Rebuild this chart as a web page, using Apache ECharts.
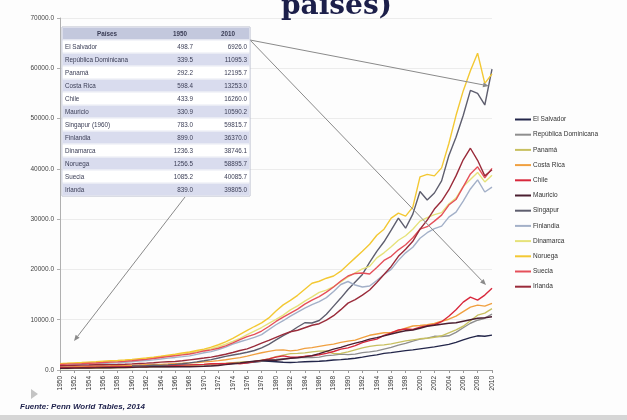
<!DOCTYPE html>
<html>
<head>
<meta charset="utf-8">
<script src="https://cdn.jsdelivr.net/npm/echarts@6/dist/echarts.min.js"></script>
<style>
  html, body { margin: 0; padding: 0; background: #fdfdfd; }
  #chart-container { width: 627px; height: 420px; }
</style>
</head>
<body>
<div id="chart-container"></div>
<script>
var dom = document.getElementById("chart-container");
var myChart = echarts.init(dom, null, { renderer: "canvas" });

var years = [];
for (var y = 1950; y <= 2010; y++) years.push(String(y));

var paises = ["El Salvador", "República Dominicana", "Panamá", "Costa Rica", "Chile", "Mauricio",
  "Singapur", "Finlandia", "Dinamarca", "Noruega", "Suecia", "Irlanda"];
var colores = ["#23264a", "#8e8e8e", "#c8c060", "#f0a040", "#d8283c", "#4a1e30",
  "#5e5e6e", "#a3b0c8", "#e6e27a", "#f3c833", "#e5505a", "#9a2b3a"];

// PIB per capita, 1950-2010
var elSalvador = [499, 510, 540, 560, 580, 600, 640, 650, 650, 660,
  690, 700, 750, 780, 830, 870, 900, 930, 950, 970,
  1000, 1040, 1100, 1160, 1260, 1330, 1410, 1560, 1720, 1720,
  1640, 1530, 1500, 1560, 1630, 1700, 1750, 1850, 1980, 2070,
  2200, 2350, 2550, 2800, 3000, 3300, 3450, 3650, 3850, 4000,
  4200, 4400, 4600, 4850, 5100, 5500, 6000, 6450, 6800, 6700, 6926];
var repDominicana = [340, 370, 400, 400, 420, 440, 480, 510, 530, 530,
  550, 530, 610, 660, 690, 620, 700, 720, 740, 820,
  900, 990, 1100, 1240, 1350, 1450, 1580, 1700, 1760, 1920,
  2080, 2250, 2350, 2480, 2530, 2490, 2560, 2860, 2950, 3150,
  3050, 3150, 3450, 3600, 3800, 4150, 4500, 4950, 5300, 5750,
  6150, 6350, 6700, 6650, 6800, 7500, 8400, 9300, 9900, 10300, 11095];
var panama = [292, 300, 320, 345, 360, 380, 400, 440, 450, 480,
  510, 570, 610, 670, 700, 760, 810, 880, 930, 1010,
  1090, 1180, 1260, 1350, 1460, 1570, 1640, 1720, 1950, 2180,
  2650, 2950, 3250, 3300, 3400, 3600, 3750, 3780, 3250, 3300,
  3600, 4000, 4400, 4700, 4900, 5000, 5200, 5500, 5800, 6000,
  6200, 6300, 6500, 6800, 7400, 8000, 8700, 9800, 10900, 11300, 12196];
var costaRica = [598, 620, 660, 720, 740, 790, 800, 840, 890, 920,
  950, 980, 1030, 1080, 1110, 1180, 1260, 1330, 1420, 1500,
  1620, 1720, 1860, 2050, 2270, 2460, 2750, 3120, 3420, 3700,
  3950, 4000, 3800, 3950, 4300, 4450, 4700, 4950, 5150, 5500,
  5750, 5950, 6450, 6900, 7150, 7400, 7450, 7800, 8300, 8750,
  8850, 9000, 9250, 9700, 10100, 10700, 11600, 12500, 12900, 12700, 13253];
var chile = [434, 460, 490, 520, 540, 560, 580, 610, 630, 650,
  680, 720, 760, 800, 830, 860, 940, 970, 1010, 1070,
  1120, 1230, 1250, 1230, 1360, 1250, 1440, 1680, 1910, 2220,
  2550, 2820, 2550, 2550, 2720, 2830, 3030, 3300, 3680, 4150,
  4400, 4850, 5450, 5850, 6150, 6900, 7400, 7950, 8150, 8050,
  8500, 8800, 9000, 9600, 10700, 12000, 13500, 14500, 13900, 14900, 16260];
var mauricio = [331, 360, 380, 390, 400, 420, 440, 450, 470, 490,
  560, 610, 600, 690, 650, 680, 660, 650, 640, 670,
  720, 790, 900, 1060, 1250, 1380, 1600, 1750, 1880, 2000,
  1950, 2150, 2350, 2450, 2600, 2850, 3250, 3700, 4150, 4500,
  4950, 5350, 5700, 6150, 6450, 6800, 7150, 7500, 7800, 7950,
  8300, 8700, 8900, 9100, 9300, 9400, 9700, 10000, 10300, 10400, 10590];
var singapur = [null, null, null, null, null, null, null, null, null, null,
  783, 830, 880, 950, 920, 1010, 1110, 1240, 1420, 1610,
  1830, 2070, 2380, 2700, 2990, 3220, 3520, 3880, 4400, 5100,
  5980, 6850, 7600, 8550, 9400, 9350, 9850, 11100, 12700, 14300,
  16000, 17500, 19000, 21400, 23600, 25500, 27800, 30200, 28200, 31000,
  35500, 33800, 35200, 37600, 42600, 46300, 50600, 55600, 55000, 52700, 59816];
var finlandia = [899, 990, 1050, 1090, 1160, 1220, 1300, 1380, 1420, 1510,
  1650, 1790, 1900, 2010, 2180, 2360, 2500, 2650, 2810, 3120,
  3440, 3660, 4040, 4560, 5130, 5620, 6050, 6500, 7050, 8020,
  9000, 9800, 10700, 11500, 12300, 13000, 13600, 14400, 15600, 17000,
  17600, 16900, 16500, 16700, 17800, 19000, 20000, 21800, 23300, 24400,
  26200, 27300, 28100, 28600, 30400, 31400, 33600, 36000, 37800, 35400, 36370];
var dinamarca = [1236, 1300, 1350, 1420, 1480, 1530, 1600, 1690, 1760, 1870,
  1960, 2120, 2280, 2400, 2620, 2810, 2990, 3170, 3380, 3690,
  3920, 4230, 4620, 5150, 5700, 6300, 7050, 7750, 8450, 9280,
  10050, 10900, 11950, 12750, 13700, 14550, 15450, 15900, 16600, 17500,
  18500, 19300, 20100, 20600, 22300, 23300, 24500, 25800, 26700, 28000,
  29600, 30300, 30900, 31300, 33000, 34200, 36500, 37900, 39300, 37400, 38746];
var noruega = [1257, 1330, 1410, 1480, 1560, 1640, 1750, 1840, 1890, 1990,
  2110, 2260, 2390, 2540, 2730, 2940, 3140, 3390, 3580, 3880,
  4150, 4560, 5020, 5580, 6280, 7080, 7870, 8650, 9380, 10350,
  11750, 12950, 13850, 14850, 16050, 17250, 17650, 18250, 18700, 19650,
  21000, 22300, 23600, 25000, 26800, 28000, 30200, 31200, 30600, 32400,
  38400, 38900, 38600, 40200, 45000, 50600, 55500, 59500, 63000, 57000, 58896];
var suecia = [1085, 1170, 1220, 1270, 1340, 1400, 1480, 1570, 1620, 1710,
  1830, 1980, 2120, 2280, 2490, 2660, 2820, 3010, 3190, 3460,
  3790, 4010, 4320, 4790, 5380, 6050, 6650, 7100, 7750, 8650,
  9650, 10500, 11300, 12100, 13100, 13900, 14600, 15500, 16500, 17700,
  18700, 19200, 19300, 19100, 20400, 21800, 22600, 23900, 24900, 26300,
  28000, 28500, 29600, 30800, 32800, 33900, 36400, 39000, 40400, 38200, 40086];
var irlanda = [839, 880, 920, 960, 990, 1030, 1050, 1070, 1090, 1140,
  1210, 1290, 1360, 1450, 1560, 1630, 1700, 1840, 2020, 2200,
  2380, 2570, 2830, 3130, 3480, 3880, 4200, 4750, 5350, 5900,
  6500, 7100, 7600, 7900, 8400, 8900, 9200, 9900, 10800, 12000,
  13300, 14000, 14900, 15900, 17400, 19000, 20600, 22600, 24000, 25600,
  28000, 29800, 32000, 33600, 35800, 38600, 41800, 44100, 41700, 38600, 39805];

var allSeries = [elSalvador, repDominicana, panama, costaRica, chile, mauricio,
  singapur, finlandia, dinamarca, noruega, suecia, irlanda];

// tabla insertada
var tablaCabecera = ["Países", "1950", "2010"];
var tabla1950 = ["498.7", "339.5", "292.2", "598.4", "433.9", "330.9",
  "783.0", "899.0", "1236.3", "1256.5", "1085.2", "839.0"];
var tabla2010 = ["6926.0", "11095.3", "12195.7", "13253.0", "16260.0", "10590.2",
  "59815.7", "36370.0", "38746.1", "58895.7", "40085.7", "39805.0"];
var tablaNombres = ["El Salvador", "República Dominicana", "Panamá", "Costa Rica", "Chile", "Mauricio",
  "Singapur (1960)", "Finlandia", "Dinamarca", "Noruega", "Suecia", "Irlanda"];

var series = paises.map(function (p, i) {
  return {
    name: p,
    type: "line",
    data: allSeries[i],
    showSymbol: false,
    connectNulls: false,
    lineStyle: { width: 1.4, color: colores[i] },
    itemStyle: { color: colores[i] },
    z: 2
  };
});

// graphic: tabla, flechas y notas
var tx = 62, ty = 27, tw = 188, rh = 13;
var graphic = [];
graphic.push({ type: "rect", shape: { x: tx, y: ty, width: tw, height: rh * 13 },
  style: { fill: "#ffffff", stroke: "#b8bccb", lineWidth: 1 }, z: 10 });
for (var r = 0; r < 13; r++) {
  var fill = r === 0 ? "#c3c8dd" : (r % 2 === 0 ? "#d9dcee" : "#ffffff");
  graphic.push({ type: "rect", shape: { x: tx + 0.5, y: ty + r * rh + 0.5, width: tw - 1, height: rh - 1 },
    style: { fill: fill, stroke: "#e6e8f2", lineWidth: 0.5 }, z: 11 });
}
var fs = { fontSize: 6.3, fontFamily: "Liberation Sans", fill: "#3a3d55" };
graphic.push({ type: "text", x: tx + 45, y: ty + 4, z: 12,
  style: Object.assign({ text: tablaCabecera[0], fontWeight: "bold", textAlign: "center" }, fs) });
graphic.push({ type: "text", x: tx + 118, y: ty + 4, z: 12,
  style: Object.assign({ text: tablaCabecera[1], fontWeight: "bold", textAlign: "center" }, fs) });
graphic.push({ type: "text", x: tx + 166, y: ty + 4, z: 12,
  style: Object.assign({ text: tablaCabecera[2], fontWeight: "bold", textAlign: "center" }, fs) });
for (var k = 0; k < 12; k++) {
  var yy = ty + (k + 1) * rh + 4;
  graphic.push({ type: "text", x: tx + 3, y: yy, z: 12,
    style: Object.assign({ text: tablaNombres[k], textAlign: "left" }, fs) });
  graphic.push({ type: "text", x: tx + 131, y: yy, z: 12,
    style: Object.assign({ text: tabla1950[k], textAlign: "right" }, fs) });
  graphic.push({ type: "text", x: tx + 185, y: yy, z: 12,
    style: Object.assign({ text: tabla2010[k], textAlign: "right" }, fs) });
}

function arrow(x1, y1, x2, y2) {
  var ang = Math.atan2(y2 - y1, x2 - x1), L = 6, W = 2.5;
  var bx = x2 - L * Math.cos(ang), by = y2 - L * Math.sin(ang);
  graphic.push({ type: "line", shape: { x1: x1, y1: y1, x2: bx, y2: by },
    style: { stroke: "#8a8a8a", lineWidth: 1 }, z: 9 });
  graphic.push({ type: "polygon", z: 9, shape: { points: [[x2, y2],
    [bx - W * Math.sin(ang), by + W * Math.cos(ang)], [bx + W * Math.sin(ang), by - W * Math.cos(ang)]] },
    style: { fill: "#8a8a8a" } });
}
arrow(250, 40, 489, 86);
arrow(250, 40, 486, 285);
arrow(185, 197, 74, 341);

graphic.push({ type: "polygon", shape: { points: [[31, 389], [31, 399], [38, 394]] },
  style: { fill: "#c4c4c4" } });
graphic.push({ type: "text", x: 20, y: 403,
  style: { text: "Fuente: Penn World Tables, 2014", fontSize: 8, fontStyle: "italic",
    fontWeight: "bold", fontFamily: "Liberation Sans", fill: "#1c1f4a" } });
graphic.push({ type: "rect", shape: { x: 0, y: 415, width: 627, height: 5 },
  style: { fill: "#d6d6d6" } });

var option = {
  backgroundColor: "#fdfdfd",
  animation: false,
  title: {
    text: "países)",
    left: 276,
    top: -12,
    textStyle: { fontFamily: "DejaVu Serif", fontWeight: "bold", fontSize: 28, color: "#1c1f4a" }
  },
  legend: {
    orient: "vertical",
    left: 510,
    top: 111,
    itemGap: 8.2,
    itemWidth: 16,
    itemHeight: 2,
    icon: "rect",
    data: paises,
    textStyle: { fontSize: 6.5, color: "#333", fontFamily: "Liberation Sans", padding: [0, 0, 0, -3] }
  },
  grid: { left: 60, right: 135, top: 18, bottom: 50 },
  xAxis: {
    type: "category",
    data: years,
    boundaryGap: false,
    axisLine: { lineStyle: { color: "#9a9a9a" } },
    axisTick: { interval: 1, length: 3, lineStyle: { color: "#9a9a9a" } },
    axisLabel: { interval: 1, rotate: 90, fontSize: 6.5, color: "#333", margin: 6, fontFamily: "Liberation Sans" }
  },
  yAxis: {
    type: "value",
    min: 0,
    max: 70000,
    interval: 10000,
    axisLine: { show: true, lineStyle: { color: "#b0b0b0" } },
    axisTick: { show: true, length: 3, lineStyle: { color: "#b0b0b0" } },
    splitLine: { lineStyle: { color: "#ececec" } },
    axisLabel: {
      fontSize: 6.5, color: "#444", margin: 6, fontFamily: "Liberation Sans",
      formatter: function (v) { return v.toFixed(1); }
    }
  },
  graphic: graphic,
  series: series
};

myChart.setOption(option);
</script>
</body>
</html>
